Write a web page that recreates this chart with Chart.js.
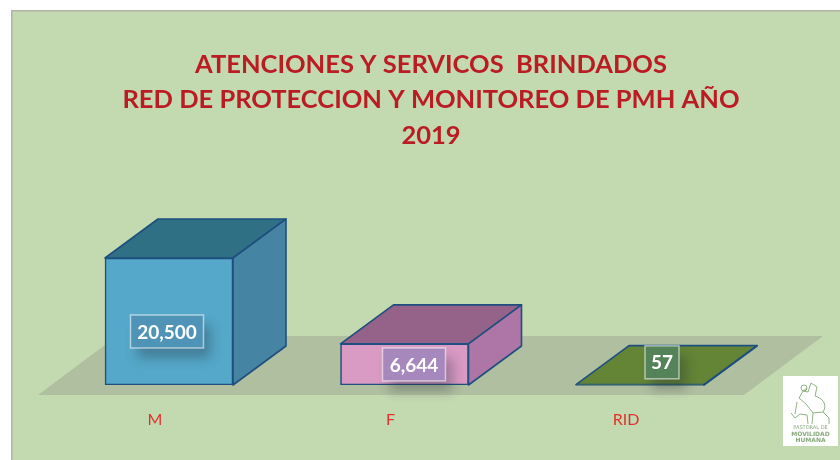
<!DOCTYPE html>
<html><head><meta charset="utf-8">
<style>html,body{margin:0;padding:0;background:#fff}canvas{display:block}</style>
<script src="https://cdn.jsdelivr.net/npm/chart.js@4"></script></head>
<body><canvas id="c" width="840" height="460"></canvas>
<script>
const categories = ['M', 'F', 'RID'];
const values = [20500, 6644, 57];
const valueLabels = ['20,500', '6,644', '57'];
const titleLines = ['ATENCIONES Y SERVICOS  BRINDADOS', 'RED DE PROTECCION Y MONITOREO DE PMH AÑO', '2019'];
const logoLines = ['PASTORAL DE', 'MOVILIDAD', 'HUMANA'];

const frontColors = ['#55a8c9', '#d99ac4', '#648536'];
const topColors = ['#2f7085', '#956389', '#648536'];
const sideColors = ['#4585a3', '#ad76a6', '#648536'];
const boxColors = ['#4f94b6', '#a688bc', '#558359'];
const boxOffsets = [[-2, 10], [9.5, 0], [22, -22.5]];
const boxWidths = [73, 63, 34];
const EDGE = '#1f4f7f', DX = 53, DY = -39;

const scene = {
  id: 'scene',
  beforeDraw(chart) {
    const c = chart.ctx;
    c.save();
    c.fillStyle = '#fff'; c.fillRect(0, 0, 840, 460);
    c.fillStyle = '#c3d9b0'; c.fillRect(11, 10, 829, 450);
    c.fillStyle = '#b3b3ab'; c.fillRect(11, 10, 829, 1.5); c.fillRect(11, 10, 1.5, 450);
    const y0 = chart.scales.y.getPixelForValue(0);
    c.fillStyle = '#b0bfa0';
    c.beginPath();
    c.moveTo(38, y0 + 10); c.lineTo(117, y0 - 49); c.lineTo(823, y0 - 49); c.lineTo(744, y0 + 10);
    c.closePath(); c.fill();
    c.restore();
  },
  beforeDatasetsDraw(chart) {
    const c = chart.ctx, bars = chart.getDatasetMeta(0).data;
    c.save();
    c.strokeStyle = EDGE; c.lineWidth = 1.6; c.lineJoin = 'round';
    bars.forEach((b, i) => {
      const p = b.getProps(['x', 'y', 'base', 'width']);
      const l = p.x - p.width / 2, r = p.x + p.width / 2;
      c.fillStyle = topColors[i];
      c.beginPath(); c.moveTo(l, p.y); c.lineTo(l + DX, p.y + DY); c.lineTo(r + DX, p.y + DY); c.lineTo(r, p.y); c.closePath(); c.fill(); c.stroke();
      c.fillStyle = sideColors[i];
      c.beginPath(); c.moveTo(r, p.y); c.lineTo(r + DX, p.y + DY); c.lineTo(r + DX, p.base + DY); c.lineTo(r, p.base); c.closePath(); c.fill(); c.stroke();
    });
    c.restore();
  },
  afterDatasetsDraw(chart) {
    const c = chart.ctx, bars = chart.getDatasetMeta(0).data;
    bars.forEach((b, i) => {
      const p = b.getProps(['x', 'y', 'base']);
      const cx = p.x + boxOffsets[i][0], cy = (p.y + p.base) / 2 + boxOffsets[i][1];
      const w = boxWidths[i], h = 33;
      c.save();
      c.shadowColor = 'rgba(30,40,50,0.32)'; c.shadowBlur = 12; c.shadowOffsetX = 7; c.shadowOffsetY = 10;
      c.fillStyle = boxColors[i];
      c.fillRect(cx - w / 2, cy - h / 2, w, h);
      c.restore();
      c.save();
      c.strokeStyle = 'rgba(255,255,255,0.55)'; c.lineWidth = 1.5;
      c.strokeRect(cx - w / 2, cy - h / 2, w, h);
      c.fillStyle = '#fff'; c.font = 'bold 19px Lato'; c.textAlign = 'center'; c.textBaseline = 'middle';
      c.fillText(valueLabels[i], cx, cy + 1);
      c.restore();
    });
    c.save();
    c.fillStyle = '#fff'; c.fillRect(783, 376, 55, 70);
    c.strokeStyle = '#8fb583'; c.lineWidth = 1; c.lineJoin = 'round';
    c.beginPath();
    c.moveTo(791, 413); c.lineTo(795, 418); c.lineTo(800, 414); c.lineTo(807, 415); c.lineTo(808, 424);
    c.moveTo(812, 424); c.lineTo(813, 413); c.lineTo(823, 412); c.lineTo(829, 418); c.lineTo(829, 424);
    c.moveTo(823, 412); c.bezierCurveTo(828, 404, 822, 398, 815, 396);
    c.lineTo(817, 387); c.lineTo(811, 383); c.lineTo(808, 392); c.lineTo(803, 391); c.lineTo(799, 398); c.lineTo(806, 404); c.lineTo(813, 413);
    c.moveTo(797, 402); c.lineTo(795, 414);
    c.moveTo(803, 391); c.arc(804, 388, 3, 0, 6.3);
    c.stroke();
    c.fillStyle = '#86a87a'; c.textAlign = 'center'; c.textBaseline = 'middle';
    c.font = '5px "DejaVu Sans"'; c.fillText(logoLines[0], 810.5, 428);
    c.font = 'bold 6px "DejaVu Sans"'; c.fillText(logoLines[1], 810.5, 434.5); c.fillText(logoLines[2], 810.5, 440.5);
    c.restore();
  }
};

new Chart(document.getElementById('c'), {
  type: 'bar',
  data: { labels: categories, datasets: [{ data: values, backgroundColor: frontColors, borderColor: EDGE, borderWidth: 1.6, borderSkipped: false, barThickness: 128 }] },
  plugins: [scene],
  options: {
    responsive: false, animation: false,
    layout: { padding: { left: 51.25, right: 29.25, top: 0, bottom: 0 } },
    plugins: {
      legend: { display: false }, tooltip: { enabled: false },
      title: { display: true, text: titleLines, color: '#bb1c24', align: 'center',
        font: { family: 'Lato', size: 25.5, weight: 'bold', lineHeight: 1.392 },
        padding: { top: 47, bottom: 45.65 } }
    },
    scales: {
      x: { grid: { display: false }, border: { display: false },
        ticks: { color: '#e2312d', font: { family: 'Lato', size: 16 }, labelOffset: -14, padding: 17, maxRotation: 0 },
        afterFit: s => { s.height = 75; } },
      y: { position: 'right', min: 0, max: 30000, grid: { display: false }, border: { display: false },
        ticks: { display: false }, afterFit: s => { s.width = 53; } }
    }
  }
});
</script></body></html>
